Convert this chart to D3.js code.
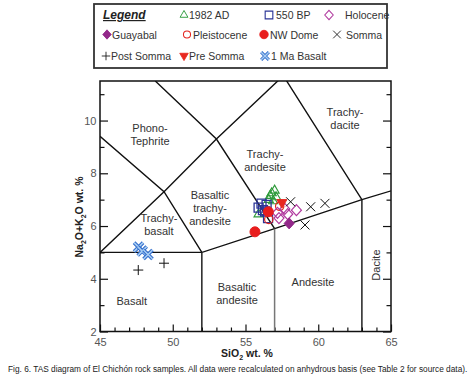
<!DOCTYPE html>
<html>
<head>
<meta charset="utf-8">
<script src="https://cdn.jsdelivr.net/npm/d3@7"></script>
<style>
body { margin: 0; background: #fff; }
text { font-family: "Liberation Sans", Arial, sans-serif; }
</style>
</head>
<body>
<div id="chart"></div>
<script>
// sample compositions, [SiO2, Na2O+K2O] wt. %
const ad1982 = [[56.6, 7.0], [56.8, 7.25], [57.0, 7.35], [57.1, 7.1], [56.9, 6.95], [56.7, 7.15], [55.9, 6.45]];
const bp550 = [[55.9, 6.7], [56.1, 6.85], [56.35, 6.55], [56.55, 6.3], [56.45, 6.8], [56.2, 6.6]];
const holocene = [[58.5, 6.6], [57.9, 6.45], [57.3, 6.3], [57.7, 6.65], [57.2, 6.5]];
const guayabal = [[58.0, 6.1]];
const pleistocene = [[57.35, 6.75], [56.6, 6.25]];
const nwDome = [[55.65, 5.78], [56.57, 6.54]];
const somma = [[58.1, 6.92], [59.48, 6.73], [60.46, 6.86], [59.09, 6.04]];
const postSomma = [[47.63, 4.33], [49.4, 4.59]];
const preSomma = [[57.5, 6.88]];
const basalt1Ma = [[47.65, 5.2], [47.9, 5.05], [48.3, 4.92]];

// TAS field boundaries (Le Bas et al.)
const boundaries = [
  [[45, 5], [52, 5]],
  [[45, 5], [49.4, 7.3], [53, 9.3], [57.6, 11.7]],
  [[52, 5], [49.4, 7.3], [45, 9.4]],
  [[48.8, 11.5], [53, 9.3], [57, 5.9]],
  [[52, 2], [52, 5], [57, 5.9], [63, 7], [69, 8]],
  [[63, 2], [63, 7], [57.6, 11.7]]
];
const greyBoundary = [[57, 2], [57, 5.9]];

const fieldNames = [
  { lines: ["Phono-", "Tephrite"], at: [48.44, 9.47] },
  { lines: ["Trachy-", "andesite"], at: [56.34, 8.48] },
  { lines: ["Basaltic", "trachy-", "andesite"], at: [52.56, 6.68] },
  { lines: ["Trachy-", "basalt"], at: [49.05, 6.04] },
  { lines: ["Trachy-", "dacite"], at: [61.84, 10.08] },
  { lines: ["Basalt"], at: [47.18, 3.17] },
  { lines: ["Basaltic", "andesite"], at: [54.42, 3.44] },
  { lines: ["Andesite"], at: [59.64, 3.88] }
];

const xMajor = [45, 50, 55, 60, 65];
const xMinor = [46, 47, 48, 49, 51, 52, 53, 54, 56, 57, 58, 59, 61, 62, 63, 64];
const yMajor = [2, 4, 6, 8, 10];
const yMinor = [3, 5, 7, 9, 11];

const width = 476, height = 390;
const svg = d3.select("#chart").append("svg")
  .attr("width", width)
  .attr("height", height);

const x = d3.scaleLinear().domain([45, 65]).range([100, 391]);
const y = d3.scaleLinear().domain([2, 11.5]).range([331.5, 81]);

svg.append("clipPath").attr("id", "plotclip")
  .append("rect")
  .attr("x", 100).attr("y", 81)
  .attr("width", 291).attr("height", 250.5);

// marker shapes
const shapes = {
  triUp: "M0,-5.3L4.6,2.7L-4.6,2.7Z",
  triDown: "M-5,-3.2L5,-3.2L0,5.4Z",
  square: "M-4.5,-4.5H4.5V4.5H-4.5Z",
  diamond: "M0,-5.5L5,0L0,5.5L-5,0Z",
  circle: d3.symbol(d3.symbolCircle, 78)(),
  smallCircle: d3.symbol(d3.symbolCircle, 55)(),
  times: "M-4.5,-4.5L4.5,4.5M4.5,-4.5L-4.5,4.5",
  plus: "M-5,0H5M0,-5V5"
};

const seriesList = [
  { name: "1982 AD", pts: ad1982, shape: "triUp", stroke: "#2e9a3a", fill: "none", sw: 1.1 },
  { name: "550 BP", pts: bp550, shape: "square", stroke: "#2b3596", fill: "none", sw: 1.3 },
  { name: "Pleistocene", pts: pleistocene, shape: "smallCircle", stroke: "#e3241f", fill: "none", sw: 1.2 },
  { name: "Holocene", pts: holocene, shape: "diamond", stroke: "#b0389e", fill: "none", sw: 1.2 },
  { name: "Somma", pts: somma, shape: "times", stroke: "#111", fill: "none", sw: 1 },
  { name: "Post Somma", pts: postSomma, shape: "plus", stroke: "#111", fill: "none", sw: 1 },
  { name: "1 Ma Basalt", pts: basalt1Ma, shape: "times", stroke: "#2f6bcb", fill: "none", sw: 3.6, inner: "#a8cdf3" },
  { name: "Guayabal", pts: guayabal, shape: "diamond", stroke: "#93288a", fill: "#93288a", sw: 1 },
  { name: "NW Dome", pts: nwDome, shape: "circle", stroke: "#e81d1d", fill: "#e81d1d", sw: 1 },
  { name: "Pre Somma", pts: preSomma, shape: "triDown", stroke: "#e8281f", fill: "#e8281f", sw: 1 }
];

function drawMarker(g, s, scale) {
  g.append("path")
    .attr("d", shapes[s.shape])
    .attr("transform", scale ? `scale(${scale})` : null)
    .attr("fill", s.fill)
    .attr("stroke", s.stroke)
    .attr("stroke-width", s.sw);
  if (s.inner) {
    g.append("path")
      .attr("d", shapes[s.shape])
      .attr("transform", scale ? `scale(${scale})` : null)
      .attr("fill", "none")
      .attr("stroke", s.inner)
      .attr("stroke-width", 1.6);
  }
}

// axes with inward ticks
function styleAxis(g) {
  g.select(".domain").remove();
  g.selectAll("line").attr("stroke", "#111").attr("stroke-width", 1.2);
  g.selectAll("text").attr("font-size", "11px").attr("fill", "#555")
    .attr("font-family", "Liberation Sans, Arial, sans-serif");
}

svg.append("g").attr("transform", "translate(0,331.5)")
  .call(d3.axisBottom(x).tickValues(xMajor).tickSizeInner(-7).tickSizeOuter(0).tickPadding(6.5))
  .call(styleAxis);
svg.append("g").attr("transform", "translate(0,331.5)")
  .call(d3.axisBottom(x).tickValues(xMinor).tickSizeInner(-4).tickSizeOuter(0).tickFormat(""))
  .call(styleAxis);
svg.append("g").attr("transform", "translate(100,0)")
  .call(d3.axisLeft(y).tickValues(yMajor).tickSizeInner(-8).tickSizeOuter(0).tickPadding(3.5))
  .call(styleAxis);
svg.append("g").attr("transform", "translate(100,0)")
  .call(d3.axisLeft(y).tickValues(yMinor).tickSizeInner(-4.5).tickSizeOuter(0).tickFormat(""))
  .call(styleAxis);
svg.append("g").attr("transform", "translate(391,0)")
  .call(d3.axisRight(y).tickValues(yMajor).tickSizeInner(-8).tickSizeOuter(0).tickFormat(""))
  .call(styleAxis);
svg.append("g").attr("transform", "translate(391,0)")
  .call(d3.axisRight(y).tickValues(yMinor).tickSizeInner(-4.5).tickSizeOuter(0).tickFormat(""))
  .call(styleAxis);

// field boundaries
const line = d3.line().x(d => x(d[0])).y(d => y(d[1]));
const bg = svg.append("g").attr("clip-path", "url(#plotclip)");
bg.selectAll("path.b").data(boundaries).enter().append("path")
  .attr("class", "b")
  .attr("d", line)
  .attr("fill", "none")
  .attr("stroke", "#111")
  .attr("stroke-width", 1.4);
bg.append("path")
  .attr("d", line(greyBoundary))
  .attr("fill", "none")
  .attr("stroke", "#777")
  .attr("stroke-width", 1.5);

svg.append("rect")
  .attr("x", 100).attr("y", 81)
  .attr("width", 291).attr("height", 250.5)
  .attr("fill", "none")
  .attr("stroke", "#111")
  .attr("stroke-width", 1.5);

// field names
fieldNames.forEach(f => {
  const cy = y(f.at[1]) - (f.lines.length - 1) * 13 / 2 + 4;
  const t = svg.append("text")
    .attr("text-anchor", "middle")
    .attr("font-size", "11px")
    .attr("fill", "#333");
  f.lines.forEach((l, i) => {
    t.append("tspan").attr("x", x(f.at[0])).attr("y", cy + i * 13).text(l);
  });
});
svg.append("text")
  .attr("transform", `translate(${x(63.95)},${y(4.52)}) rotate(-90)`)
  .attr("text-anchor", "middle")
  .attr("dy", "0.35em")
  .attr("font-size", "11px")
  .attr("fill", "#333")
  .text("Dacite");

// samples
seriesList.forEach(s => {
  const grp = svg.append("g");
  s.pts.forEach(p => {
    const g = grp.append("g").attr("transform", `translate(${x(p[0])},${y(p[1])})`);
    drawMarker(g, s);
  });
});

// axis titles
const xt = svg.append("text")
  .attr("x", 247).attr("y", 357)
  .attr("text-anchor", "middle")
  .attr("font-size", "10.5px")
  .attr("font-weight", "bold")
  .attr("fill", "#222");
xt.append("tspan").text("SiO");
xt.append("tspan").attr("font-size", "7px").attr("dy", 2.5).text("2");
xt.append("tspan").attr("dy", -2.5).text(" wt. %");

const yt = svg.append("text")
  .attr("transform", "translate(83,217) rotate(-90)")
  .attr("text-anchor", "middle")
  .attr("font-size", "10.5px")
  .attr("font-weight", "bold")
  .attr("fill", "#222");
yt.append("tspan").text("Na");
yt.append("tspan").attr("font-size", "7px").attr("dy", 2.5).text("2");
yt.append("tspan").attr("dy", -2.5).text("O+K");
yt.append("tspan").attr("font-size", "7px").attr("dy", 2.5).text("2");
yt.append("tspan").attr("dy", -2.5).text("O wt. %");

// legend
const legend = svg.append("g");
legend.append("rect")
  .attr("x", 94).attr("y", 4)
  .attr("width", 293).attr("height", 64)
  .attr("fill", "#fff")
  .attr("stroke", "#333")
  .attr("stroke-width", 1.8);
legend.append("text")
  .attr("x", 103).attr("y", 19)
  .attr("font-size", "12px")
  .attr("font-weight", "bold")
  .attr("font-style", "italic")
  .attr("text-decoration", "underline")
  .attr("fill", "#222")
  .text("Legend");

const legendSlots = {
  "1982 AD": [184, 189, 15],
  "550 BP": [269, 276, 15],
  "Holocene": [329, 345, 15],
  "Guayabal": [107, 112, 34.5],
  "Pleistocene": [187, 193, 34.5],
  "NW Dome": [264, 270, 34.5],
  "Somma": [337, 346, 34.5],
  "Post Somma": [106, 111, 56],
  "Pre Somma": [184, 189, 56],
  "1 Ma Basalt": [265, 271, 56]
};
seriesList.forEach(s => {
  const slot = legendSlots[s.name];
  const g = legend.append("g").attr("transform", `translate(${slot[0]},${slot[2]})`);
  drawMarker(g, s, 0.85);
  legend.append("text")
    .attr("x", slot[1]).attr("y", slot[2] + 4)
    .attr("font-size", "10.5px")
    .attr("fill", "#333")
    .text(s.name);
});

// caption
svg.append("text")
  .attr("x", 8).attr("y", 372)
  .attr("font-family", "Liberation Serif, Times New Roman, serif")
  .attr("font-size", "8.3px")
  .attr("fill", "#222")
  .text("Fig. 6. TAS diagram of El Chichón rock samples. All data were recalculated on anhydrous basis (see Table 2 for source data).");
</script>
</body>
</html>
